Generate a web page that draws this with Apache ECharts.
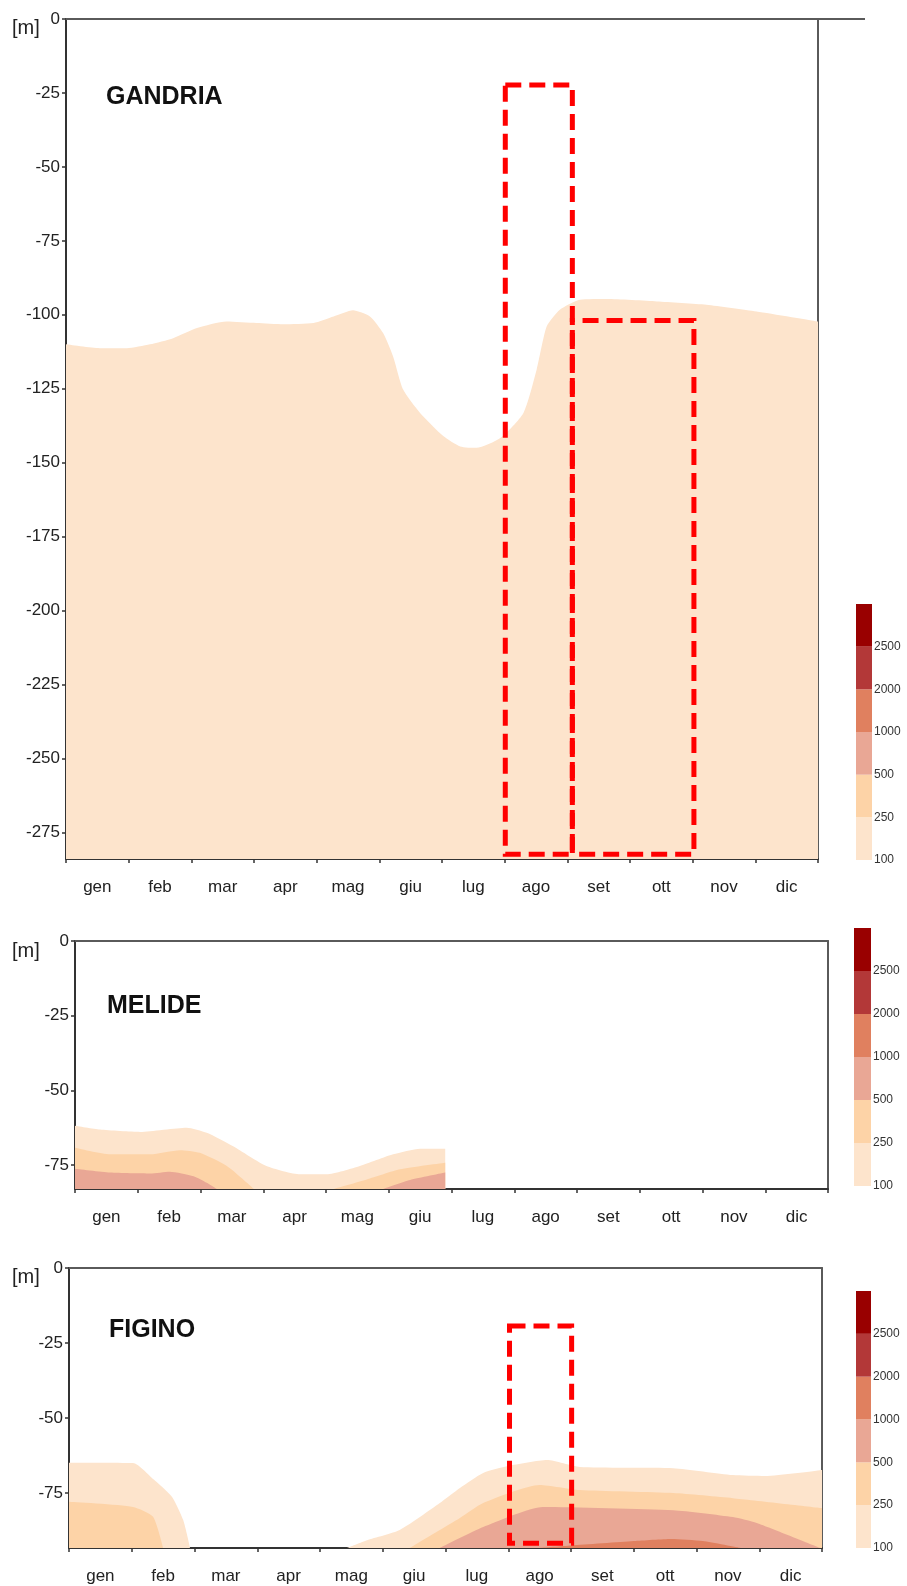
<!DOCTYPE html>
<html>
<head>
<meta charset="utf-8">
<script src="https://cdn.jsdelivr.net/npm/echarts@6/dist/echarts.min.js"></script>
<style>
html,body{margin:0;padding:0;background:#fff;}
#chart{width:907px;height:1586px;}
</style>
</head>
<body>
<div id="chart"></div>
<script>
// ---------- categories / ticks ----------
const months = ['gen','feb','mar','apr','mag','giu','lug','ago','set','ott','nov','dic'];
const yTicksGandria = [0,-25,-50,-75,-100,-125,-150,-175,-200,-225,-250,-275];
const yTicksSmall = [0,-25,-50,-75];
const legendLabels = ['100','250','500','1000','2000','2500'];
const legendSteps = [1,1,1,1,1,1];
const bandColors = ['#FDE4CC','#FDD3A7','#E9A795','#E0805F','#B33838','#990000'];
const stations = ['GANDRIA','MELIDE','FIGINO'];
const depthMin = [-284, -83, -93.3];

// ---------- GANDRIA (month position, depth) ----------
const gandria100 = [[0,-110],[0.54,-111.3],[0.97,-111.3],[1.34,-110],[1.71,-107.9],[2.09,-104.5],[2.56,-102.3],[3.04,-102.8],[3.47,-103.2],[3.95,-102.8],[4.27,-100.6],[4.58,-98.5],[4.85,-100.6],[5.06,-106.2],[5.22,-114.1],[5.38,-125.3],[5.65,-133.2],[6.02,-141],[6.29,-144.5],[6.55,-145],[6.93,-141.7],[7.3,-133.2],[7.51,-118.6],[7.67,-104],[7.88,-98.3],[8.2,-94.9],[8.63,-94.7],[9.43,-95.5],[10.22,-96.6],[11.02,-98.9],[12,-102.3]];

// ---------- MELIDE ----------
const melide100 = [[0,-61.8],[0.4,-63.1],[1.04,-63.9],[1.78,-62.5],[2.1,-64.2],[2.52,-68.7],[3.05,-75.3],[3.59,-78.1],[4.01,-78.1],[4.54,-75.3],[5.07,-71.4],[5.5,-69.5],[5.9,-69.5]];
const melide250a = [[0,-69.2],[0.56,-71.4],[1.2,-71.4],[1.67,-70],[1.99,-70.9],[2.42,-75.3],[2.74,-80.9],[2.85,-83]];
const melide250b = [[4.12,-83],[4.65,-79.8],[5.18,-76.4],[5.9,-74.2]];
const melide500a = [[0,-76.2],[0.56,-77.5],[1.2,-77.8],[1.51,-77.2],[1.89,-78.7],[2.1,-80.9],[2.26,-83]];
const melide500b = [[4.91,-83],[5.34,-80],[5.9,-77.5]];

// ---------- FIGINO ----------
const figino100a = [[0,-64.9],[1.02,-65],[1.34,-70.3],[1.64,-76.2],[1.82,-84],[1.93,-93.3]];
const figino100b = [[4.43,-93.3],[4.75,-90.7],[5.27,-87.3],[5.91,-78.3],[6.23,-73.3],[6.6,-68.3],[7.0,-66],[7.62,-64],[8.14,-66.3],[9.63,-66.7],[10.58,-69],[11.09,-69.3],[12,-67.3]];
const figino250a = [[0,-77.9],[1.02,-79.6],[1.34,-82.9],[1.5,-93.3]];
const figino250b = [[5.43,-93.3],[5.91,-87.3],[6.23,-83.3],[6.6,-78.3],[7.5,-72.3],[8.14,-74],[9.63,-75],[10.58,-76.7],[12,-80]];
const figino500 = [[5.91,-93.3],[6.6,-86.3],[7.55,-79.6],[9.63,-80.7],[10.58,-83],[10.96,-85],[11.97,-93.3]];
const figino1000 = [[7.5,-93.3],[8.0,-92.5],[9.0,-91],[9.6,-90.3],[10.1,-91],[10.7,-93.3]];

// ---------- highlighted boxes (month, depth) ----------
const gandriaBoxes = [
  [[7.01,-22.3],[8.08,-282.4]],
  [[8.08,-101.9],[10.02,-282.4]]
];
const figinoBoxes = [
  [[7.02,-19.3],[8.01,-91.7]]
];
const gandriaBoxDash = [0, 13.8];
const figinoBoxDash = [0];

// ---------- layout ----------
const FONT = 'Liberation Sans, Arial, sans-serif';
const panelGrids = [
  {left:66, top:19, width:752, height:840},
  {left:75, top:941, width:753, height:248},
  {left:69, top:1268, width:753, height:280}
];
const legendGrids = [
  {left:856, top:604, width:16, height:256},
  {left:854, top:928, width:17, height:258},
  {left:856, top:1291, width:15, height:257}
];
const titleTops = [85, 994, 1318];
const unitTops = [18, 941, 1267];

const panelBands = [
  [[gandria100,0]],
  [[melide100,0],[melide250a,1],[melide250b,1],[melide500a,2],[melide500b,2]],
  [[figino100a,0],[figino100b,0],[figino250a,1],[figino250b,1],[figino500,2],[figino1000,3]]
];
const panelBoxes = [gandriaBoxes, [], figinoBoxes];
const panelBoxDash = [gandriaBoxDash, [], figinoBoxDash];
const yTicks = [yTicksGandria, yTicksSmall, yTicksSmall];

const grid = [], xAxis = [], yAxis = [], series = [], title = [];

for (let p = 0; p < 3; p++) {
  grid.push(Object.assign({containLabel:false}, panelGrids[p]));
  // category axis (labels + ticks)
  xAxis.push({
    type:'category', gridIndex:p, data:months, position:'bottom', boundaryGap:true,
    axisLine:{show:true, onZero:false, lineStyle:{color:'#333', width:2}},
    axisTick:{show:true, length:4, inside:false, lineStyle:{color:'#333', width:1.5}},
    axisLabel:{show:true, margin:20, color:'#222', fontSize:17, fontFamily:FONT},
    splitLine:{show:false}
  });
  // value axis for the data (top border)
  xAxis.push({
    type:'value', gridIndex:p, min:0, max:12, position:'top',
    axisLine:{show:true, onZero:false, lineStyle:{color:'#5a5a5a', width:2}},
    axisTick:{show:false}, axisLabel:{show:false}, splitLine:{show:false}
  });
  yAxis.push({
    type:'value', gridIndex:p, min:depthMin[p], max:0, position:'left',
    axisLine:{show:true, onZero:false, lineStyle:{color:'#333', width:2}},
    axisTick:{show:true, length:4, inside:false, customValues:yTicks[p], lineStyle:{color:'#333', width:1.5}},
    axisLabel:{show:true, margin:6, color:'#222', fontSize:17, fontFamily:FONT, customValues:yTicks[p]},
    splitLine:{show:false}
  });
  yAxis.push({
    type:'value', gridIndex:p, min:depthMin[p], max:0, position:'right',
    axisLine:{show:true, onZero:false, lineStyle:{color:'#5a5a5a', width:2}},
    axisTick:{show:false}, axisLabel:{show:false}, splitLine:{show:false}
  });
  panelBands[p].forEach(([data, band]) => {
    series.push({
      type:'line', xAxisIndex:2*p+1, yAxisIndex:2*p, data:data,
      smooth:0.2, showSymbol:false, symbol:'none', silent:true, animation:false,
      lineStyle:{width:0}, areaStyle:{color:bandColors[band], opacity:1, origin:'start'},
      z:2+band
    });
  });
  if (panelBoxes[p].length) {
    series.push({
      type:'line', xAxisIndex:2*p+1, yAxisIndex:2*p, data:[], z:20, animation:false,
      markArea:{
        silent:true, z:30,
        itemStyle:{color:'rgba(0,0,0,0)', borderColor:'#FF0000', borderWidth:5, borderType:[16,8]},
        data: panelBoxes[p].map((b, i) => [
          {xAxis:b[0][0], yAxis:b[0][1], itemStyle:{color:'rgba(0,0,0,0)', borderColor:'#FF0000', borderWidth:5, borderType:[16,8], borderDashOffset:panelBoxDash[p][i]}},
          {xAxis:b[1][0], yAxis:b[1][1]}
        ])
      }
    });
  }
  title.push({text:stations[p], left:panelGrids[p].left + (p===1?32:40), top:titleTops[p], padding:0,
    textStyle:{fontSize:25, fontWeight:'bold', color:'#111', fontFamily:FONT}});
  title.push({text:'[m]', left:12, top:unitTops[p], padding:0,
    textStyle:{fontSize:20, fontWeight:'normal', color:'#222', fontFamily:FONT}});
}

// legends (colour scale)
for (let k = 0; k < 3; k++) {
  grid.push(Object.assign({}, legendGrids[k]));
  xAxis.push({type:'category', gridIndex:3+k, data:['scale'], show:false, boundaryGap:true});
  yAxis.push({
    type:'value', gridIndex:3+k, min:0, max:legendSteps.length, interval:1, position:'right',
    axisLine:{show:false}, axisTick:{show:false}, splitLine:{show:false},
    axisLabel:{show:true, margin:2, color:'#333', fontSize:12, fontFamily:FONT,
      formatter:(v) => legendLabels[v] !== undefined ? legendLabels[v] : ''}
  });
  legendSteps.forEach((s, b) => {
    series.push({
      type:'bar', xAxisIndex:6+k, yAxisIndex:6+k, stack:'scale'+k, data:[s],
      barWidth:'100%', silent:true, animation:false, itemStyle:{color:bandColors[b]}
    });
  });
}

const chart = echarts.init(document.getElementById('chart'), null, {renderer:'canvas'});
chart.setOption({
  animation:false,
  backgroundColor:'#fff',
  title, grid, xAxis, yAxis, series,
  graphic:[{type:'line', shape:{x1:818, y1:19, x2:865, y2:19}, style:{stroke:'#5a5a5a', lineWidth:2}, z:10}]
});
</script>
</body>
</html>
